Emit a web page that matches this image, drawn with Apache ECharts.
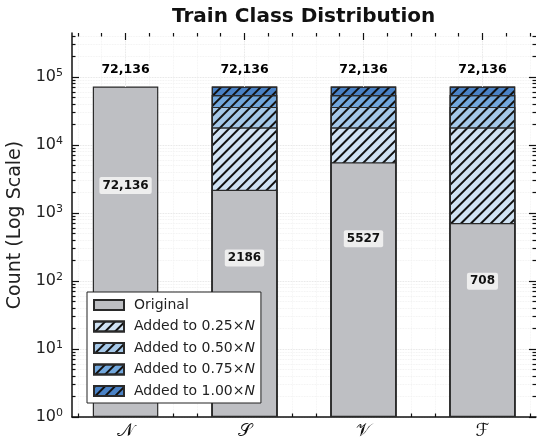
<!DOCTYPE html>
<html>
<head>
<meta charset="utf-8">
<script src="https://cdn.jsdelivr.net/npm/echarts@6/dist/echarts.min.js"></script>
<style>
html, body { margin: 0; padding: 0; background: #fff; }
#chart { width: 550px; height: 444px; }
</style>
</head>
<body>
<div id="chart"></div>
<script>
// classes and counts
const categories = ['𝒩', '𝒮', '𝒱', 'ℱ'];
const original = [72136, 2186, 5527, 708];
// top of the stack after each augmentation level (level x N, N = 72,136)
const reached25 = [null, 18034, 18034, 18034];
const reached50 = [null, 36068, 36068, 36068];
const reached75 = [null, 54102, 54102, 54102];
const reached100 = [null, 72136, 72136, 72136];
const totals = [72136, 72136, 72136, 72136];

const yMajor = [1, 10, 100, 1000, 10000, 100000];
const yTickExp = ['0', '1', '2', '3', '4', '5'];
const xMajor = [0, 1, 2, 3];
const Y_MAX = 440000;

const FONT = 'DejaVu Sans';

let yMinor = [];
yMajor.forEach(d => {
    for (let k = 2; k <= 9; k++) {
        if (d * k < Y_MAX) yMinor.push(d * k);
    }
});
let xMinor = [];
for (let k = -2; k <= 17; k++) {
    if (k % 5 !== 0) xMinor.push(Math.round(k * 20) / 100);
}

function fmt(v) {
    return v >= 10000 ? v.toLocaleString('en-US') : String(v);
}
function pairs(arr) {
    return arr.map((v, i) => [i, v == null ? '-' : v]);
}

const hatch = {
    symbol: 'rect',
    symbolSize: 1,
    color: '#111',
    dashArrayX: [1, 0],
    dashArrayY: [2, 5],
    rotation: -Math.PI / 4
};

function yAx(position, ticks, len, major) {
    const main = major && position === 'left';
    return {
        type: 'log',
        logBase: 10,
        min: 1,
        max: Y_MAX,
        position: position,
        axisLine: { show: main, onZero: false, lineStyle: { color: '#111', width: 1.5 } },
        axisTick: { show: true, inside: true, length: len, customValues: ticks, lineStyle: { color: '#111', width: 1.2 } },
        axisLabel: main ? {
            show: true,
            customValues: yMajor,
            margin: 9,
            color: '#222',
            formatter: v => {
                const i = yMajor.indexOf(Math.round(v));
                return i < 0 ? '' : '{b|10}{s|' + yTickExp[i] + '}';
            },
            rich: {
                b: { fontFamily: FONT, fontSize: 16, color: '#222' },
                s: { fontFamily: FONT, fontSize: 11, color: '#222', padding: [0, 0, 8, 0] }
            }
        } : { show: false },
        splitLine: {
            show: position === 'left',
            lineStyle: { color: major ? '#dcdcdc' : '#eeeeee', type: 'dotted', width: 0.8 }
        },
        name: main ? 'Count (Log Scale)' : '',
        nameLocation: 'middle',
        nameGap: 44,
        nameTextStyle: { fontFamily: FONT, fontSize: 19, color: '#222' }
    };
}

function xAx(position, ticks, len, major) {
    const main = major && position === 'bottom';
    return {
        type: 'value',
        min: -0.45,
        max: 3.45,
        position: position,
        axisLine: { show: main, onZero: false, lineStyle: { color: '#111', width: 1.5 } },
        axisTick: { show: true, inside: true, length: len, customValues: ticks, lineStyle: { color: '#111', width: 1.2 } },
        axisLabel: main ? {
            show: true,
            customValues: xMajor,
            margin: 5,
            fontFamily: FONT,
            fontSize: 18,
            color: '#111',
            formatter: v => categories[Math.round(v)] || ''
        } : { show: false },
        splitLine: {
            show: position === 'bottom',
            lineStyle: { color: major ? '#dcdcdc' : '#f0f0f0', type: 'dotted', width: 0.8 }
        }
    };
}

function stackBar(name, arr, color) {
    return {
        name: name,
        type: 'bar',
        data: pairs(arr),
        barWidth: 65.5,
        barGap: '-100%',
        itemStyle: { color: color, borderColor: '#2a2a2a', borderWidth: 1.2, decal: hatch }
    };
}

const chart = echarts.init(document.getElementById('chart'), null, { renderer: 'canvas' });

chart.setOption({
    animation: false,
    backgroundColor: '#fff',
    title: {
        text: 'Train Class Distribution',
        left: 167,
        top: 2,
        textStyle: { fontFamily: FONT, fontSize: 20, fontWeight: 'bold', color: '#111' }
    },
    legend: {
        orient: 'vertical',
        left: 87,
        top: 292,
        padding: [6, 6, 5, 6],
        backgroundColor: '#fff',
        borderColor: '#222',
        borderWidth: 1,
        icon: 'rect',
        itemWidth: 30,
        itemHeight: 10,
        itemGap: 7.5,
        data: ['Original', 'Added to 0.25×N', 'Added to 0.50×N', 'Added to 0.75×N', 'Added to 1.00×N'],
        formatter: name => name.startsWith('Added')
            ? '{t|' + name.slice(0, -1) + '}{i|N}'
            : '{t|' + name + '}',
        textStyle: {
            color: '#222',
            rich: {
                t: { fontFamily: FONT, fontSize: 14, color: '#222', padding: [0, 0, 0, 5], lineHeight: 17 },
                i: { fontFamily: FONT, fontSize: 14, fontStyle: 'italic', color: '#222', lineHeight: 17 }
            }
        }
    },
    grid: { left: 72, right: 14, top: 33, bottom: 27, containLabel: false, outerBoundsMode: 'none' },
    xAxis: [
        xAx('bottom', xMajor, 7, true),
        xAx('bottom', xMinor, 3.5, false),
        xAx('top', xMajor, 7, true),
        xAx('top', xMinor, 3.5, false)
    ],
    yAxis: [
        yAx('left', yMajor, 7, true),
        yAx('left', yMinor, 3.5, false),
        yAx('right', yMajor, 7, true),
        yAx('right', yMinor, 3.5, false)
    ],
    series: [
        stackBar('Added to 1.00×N', reached100, '#4a82c6'),
        stackBar('Added to 0.75×N', reached75, '#72a7dc'),
        stackBar('Added to 0.50×N', reached50, '#a5c8e8'),
        stackBar('Added to 0.25×N', reached25, '#d0e2f3'),
        {
            name: 'Original',
            type: 'bar',
            data: pairs(original),
            barWidth: 65.5,
            barGap: '-100%',
            itemStyle: { color: '#bebfc3', borderColor: '#2a2a2a', borderWidth: 1.2 },
            label: {
                show: true,
                position: ['50%', '30%'],
                align: 'center',
                verticalAlign: 'middle',
                formatter: p => fmt(p.value[1]),
                fontFamily: FONT,
                fontSize: 12,
                fontWeight: 'bold',
                color: '#111',
                backgroundColor: 'rgba(242,242,242,0.92)',
                padding: [3, 3, 2, 3],
                borderRadius: 2
            }
        },
        {
            name: 'total',
            type: 'scatter',
            data: pairs(totals),
            symbolSize: 1,
            itemStyle: { color: '#fff', opacity: 1 },
            silent: true,
            label: {
                show: true,
                position: 'top',
                distance: 10,
                formatter: p => fmt(p.value[1]),
                fontFamily: FONT,
                fontSize: 12.5,
                fontWeight: 'bold',
                color: '#000'
            }
        }
    ]
});
</script>
</body>
</html>
